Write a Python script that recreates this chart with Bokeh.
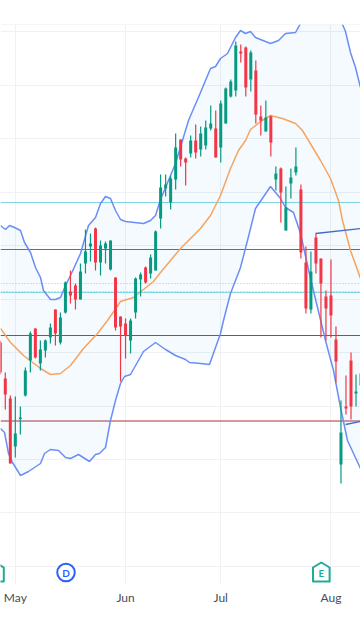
from bokeh.plotting import figure
from bokeh.models import Range1d, FixedTicker, Span
from bokeh.core.properties import value
from bokeh.embed import file_html
from bokeh.resources import INLINE

# Candles, one per session (price scale is unlabeled on the picture)
open_ = [298,262,242,194,221.5,245,280,312,277,290,303,331,298,328,349,355,341,377,394,412,378,392,371,363,324,317,300,328,361,373,367,370,422,452,438,461,501,482,487,500,491,495,512,512,493,517,544,550,589,593,561,570,524,509,524,461,472,410,457,468,451,378,331,403,382,344,345,301,176,234,280,247,255]
high  = [300,268,245,244,234,273,309,312,300,301,317,331,328,359,370,357,377,411,407,413,400,399,400,363,324,322,322,363,368,374,386,410,466,466,465,507,501,483,505,516,514,520,535,530,540,553,561,599,596,594,590,580,535,540,525,474,473,454,472,493,456,394,389,407,382,350,381,314,240,265,288,266,270]
low   = [266,231,177,183,206,244,268,282,270,283,297,295,296,327,337,331,341,367,379,370,365,377,370,310,259,282,287,322,344,357,362,370,412,444,431,451,474,455,483,482,484,491,510,483,478,517,543,544,578,544,549,517,505,509,484,450,418,410,442,465,382,327,327,367,303,300,303,258,157,226,221,234,250]
close = [268,246,177,207,223,270,307,283,291,300,313,307,323,358,345,341,369,389,397,378,395,397,400,313,314,305,320,362,366,358,383,409,453,456,462,493,481,478,500,488,507,513,517,483,537,552,559,595,587,553,588,526,520,523,498,467,448,433,463,474,388,332,369,377,357,332,325,279,208,232,234,249,267]

session_step = 5.01
session_origin = -0.2
month_sessions = [3, 25, 44, 66]
month_labels = ["May", "Jun", "Jul", "Aug"]
price_grid = [609,555,502,448,395,341,288,234,181,128,74]

# Bollinger bands
upper_x = [0,5,9,14,20,24,30,35,40,43,50,55,60,65,70,80,88,95,100,105,110,115,120,125,143,150,155,160,175,188,200,210,215,220,227,235,240,245,250,255,270,278,285,295,300,315,330,342,345,350,355,360]
upper_y = [415,411,415,413,410,398,388,373,363,350,341,341,343,355,365,387,415,423,437,444,442,430,421,419,417,420,425,441,477,520,548,572,574,582,587,603,610,607,609,603,597,600,607,608,617,650,645,616,609,588,573,553]
lower_x = [0,4,8,12,20,28,40,44,50,58,65,70,78,89,95,99,105,110,115,120,124,130,143,155,165,175,185,189,200,209,220,223,230,240,247,255,270,280,285,293,300,310,325,333,340,347,360]
lower_y = [212,208,187,178,165,169,177,187,191,190,183,182,186,179,186,187,193,220,240,257,264,266,289,298,291,285,281,278,277,276,307,320,347,373,400,432,454,442,433,428,407,362,300,270,233,200,172]
basis_x = [0,10,23,40,50,60,70,83,97,107,120,133,153,160,170,180,188,200,210,220,230,238,245,250,260,270,282,295,302,320,330,338,342,350,360]
basis_y = [312,298,285,272,266,267,275,292,307,320,339,343,359,368,380,392,400,412,425,445,472,490,500,511,519,525,522,517,510,480,462,440,420,390,362]

# Short trend segments at the right edge
trend_top_x = [315,360]
trend_top_y = [407,412]
trend_bot_x = [345,360]
trend_bot_y = [216,219]

# Horizontal levels: price, colour, dash
levels = [
    (438, "#7fd6e2", "solid"),
    (391, "#3f6fd8", "solid"),
    (357, "#8fd8cc", "1 2"),
    (349, "#f5b26b", "1 2"),
    (348, "#86dbe4", "solid"),
    (305, "#a83f4b", "solid"),
    (219.5, "#a8303f", "solid"),
]

# Event markers
earnings_x = [-5, 320.8]
dividend_x = [65.5]
marker_price = 68

GREEN = "#089981"
RED = "#F23645"
GRID = "#eff1f4"

p = figure(width=360, height=640, output_backend="svg", toolbar_location=None,
           x_range=Range1d(0, 360), y_range=Range1d(57, 616),
           y_axis_location=None, min_border_left=0, min_border_right=0,
           min_border_top=24, min_border_bottom=57, outline_line_color=None,
           background_fill_color="#ffffff", border_fill_color="#ffffff")

ticks = [session_origin + session_step * s for s in month_sessions]
p.xaxis.ticker = FixedTicker(ticks=ticks)
p.xaxis.major_label_overrides = dict(zip(ticks, month_labels))
p.xaxis.axis_line_color = None
p.xaxis.major_tick_line_color = None
p.xaxis.minor_tick_line_color = None
p.xaxis.major_tick_in = 0
p.xaxis.major_tick_out = 0
p.xaxis.major_label_standoff = 6
p.xaxis.major_label_text_font = "Lato"
p.xaxis.major_label_text_font_size = "12px"
p.xaxis.major_label_text_color = "#4a4d57"
p.xgrid.ticker = FixedTicker(ticks=ticks)
p.xgrid.grid_line_color = GRID
p.ygrid.ticker = FixedTicker(ticks=price_grid)
p.ygrid.grid_line_color = GRID

for loc, col, dash in levels:
    p.add_layout(Span(location=loc, dimension="width", line_color=col,
                      line_width=1, line_dash=dash, level="underlay"))
p.add_layout(Span(location=24, location_units="canvas", dimension="width",
                  line_color="#ececef", line_width=1))
p.add_layout(Span(location=607.5, location_units="canvas", dimension="width",
                  line_color="#e9e9ec", line_width=1))

p.patch(upper_x + lower_x[::-1], upper_y + lower_y[::-1], fill_color="#2196f3",
        fill_alpha=0.05, line_color=None)
p.line(upper_x, upper_y, line_color="#6a8ef6", line_width=1.5)
p.line(lower_x, lower_y, line_color="#6a8ef6", line_width=1.5)
p.line(basis_x, basis_y, line_color="#f6a45e", line_width=1.5)
p.line(trend_top_x, trend_top_y, line_color="#4468cf", line_width=1.3)
p.line(trend_bot_x, trend_bot_y, line_color="#4468cf", line_width=1.3)

xs = [session_origin + session_step * i for i in range(len(open_))]
colors = [GREEN if c >= o else RED for o, c in zip(open_, close)]
p.segment(xs, high, xs, low, line_color=colors, line_width=1.2)
p.vbar(x=xs, width=3, top=[max(a, b) for a, b in zip(open_, close)],
       bottom=[min(a, b) for a, b in zip(open_, close)],
       fill_color=colors, line_color=None)

for ex in earnings_x:
    p.patch([ex, ex + 8.3, ex + 8.3, ex - 8.3, ex - 8.3],
            [marker_price + 10, marker_price + 5, marker_price - 9, marker_price - 9, marker_price + 5],
            fill_color="#ffffff", line_color="#22ab94", line_width=2, line_join="round")
p.text(earnings_x[1:], [marker_price], text=["E"], text_align="center", text_baseline="middle",
       text_font=value("Lato"), text_font_size="10px", text_font_style="bold", text_color="#22ab94")
p.scatter(dividend_x, [marker_price], size=17.5, marker="circle", fill_color="#ffffff",
          line_color="#2962ff", line_width=2)
p.text(dividend_x, [marker_price], text=["D"], text_align="center", text_baseline="middle",
       text_font=value("Lato"), text_font_size="10px", text_font_style="bold", text_color="#2962ff")

open("out.html", "w").write(file_html(p, INLINE))
